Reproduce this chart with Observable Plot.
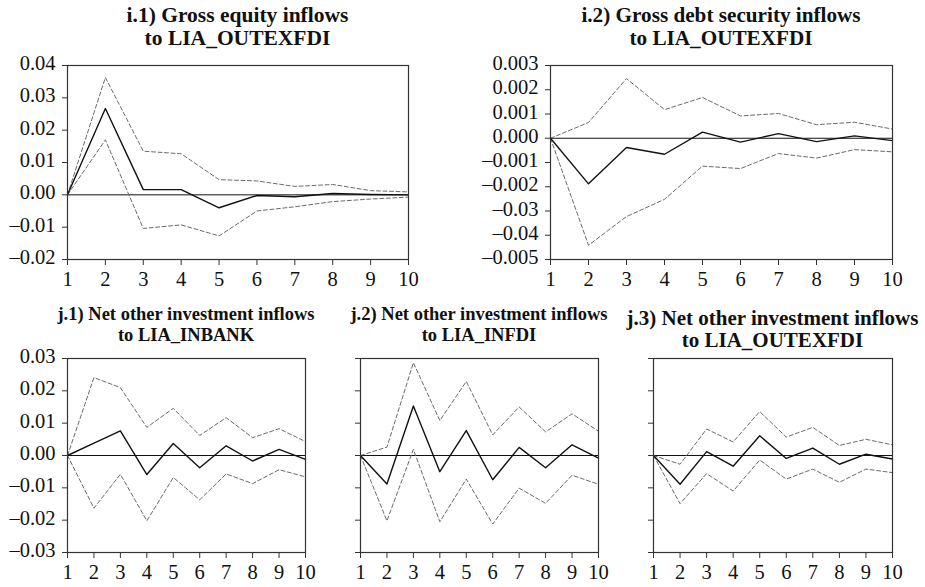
<!DOCTYPE html>
<html>
<head>
<meta charset="utf-8">
<script src="https://cdn.jsdelivr.net/npm/d3@7"></script>
<script src="https://cdn.jsdelivr.net/npm/@observablehq/plot@0.6"></script>
<style>
  html, body { margin: 0; padding: 0; background: #fff; }
  #root { position: relative; width: 925px; height: 587px; overflow: hidden; font-family: "Times New Roman", "Liberation Serif", Times, "DejaVu Serif", serif; }
  .title { position: absolute; font-weight: bold; text-align: center; white-space: nowrap; color: #111; transform: translateX(-50%); }
  .panel { position: absolute; overflow: visible !important; }
</style>
</head>
<body>
<div id="root"></div>
<script>
// Horizons (x axis)
const horizons = [1, 2, 3, 4, 5, 6, 7, 8, 9, 10];

// i.1) Gross equity inflows to LIA_OUTEXFDI
const i1Response = [0, 0.0267, 0.0016, 0.0016, -0.0040, -0.0002, -0.0006, 0.0004, 0.0001, 0.0000];
const i1Upper    = [0, 0.0363, 0.0135, 0.0127, 0.0047, 0.0043, 0.0026, 0.0032, 0.0013, 0.0009];
const i1Lower    = [0, 0.0170, -0.0104, -0.0093, -0.0127, -0.0050, -0.0037, -0.0021, -0.0013, -0.0007];
const i1Ticks    = [0.04, 0.03, 0.02, 0.01, 0, -0.01, -0.02];
const i1Labels   = ["0.04", "0.03", "0.02", "0.01", "0.00", "\u20130.01", "\u20130.02"];

// i.2) Gross debt security inflows to LIA_OUTEXFDI
const i2Response = [0, -0.00188, -0.00038, -0.00066, 0.00025, -0.00016, 0.00019, -0.00014, 0.00010, -0.00010];
const i2Upper    = [0, 0.00065, 0.00246, 0.00118, 0.00168, 0.00092, 0.00102, 0.00056, 0.00066, 0.00038];
const i2Lower    = [0, -0.00441, -0.00323, -0.00252, -0.00115, -0.00125, -0.00063, -0.00082, -0.00047, -0.00056];
const i2Ticks    = [0.003, 0.002, 0.001, 0, -0.001, -0.002, -0.003, -0.004, -0.005];
const i2Labels   = ["0.003", "0.002", "0.001", "0.000", "\u20130.001", "\u20130.002", "\u20130.03", "\u20130.04", "\u20130.005"];

// j.1) Net other investment inflows to LIA_INBANK
const j1Response = [0, 0.0038, 0.0076, -0.0059, 0.0037, -0.0038, 0.0030, -0.0017, 0.0019, -0.0012];
const j1Upper    = [0, 0.0241, 0.0210, 0.0087, 0.0146, 0.0062, 0.0117, 0.0055, 0.0083, 0.0043];
const j1Lower    = [0, -0.0163, -0.0058, -0.0202, -0.0068, -0.0137, -0.0057, -0.0087, -0.0044, -0.0066];

// j.2) Net other investment inflows to LIA_INFDI
const j2Response = [0, -0.0088, 0.0153, -0.0050, 0.0077, -0.0075, 0.0025, -0.0038, 0.0033, -0.0008];
const j2Upper    = [0, 0.0026, 0.0287, 0.0108, 0.0229, 0.0064, 0.0150, 0.0073, 0.0129, 0.0075];
const j2Lower    = [0, -0.0202, 0.0019, -0.0205, -0.0073, -0.0212, -0.0101, -0.0148, -0.0061, -0.0089];

// j.3) Net other investment inflows to LIA_OUTEXFDI
const j3Response = [0, -0.0089, 0.0012, -0.0033, 0.0061, -0.0009, 0.0023, -0.0027, 0.0004, -0.0011];
const j3Upper    = [0, -0.0027, 0.0082, 0.0042, 0.0136, 0.0057, 0.0087, 0.0031, 0.0050, 0.0033];
const j3Lower    = [0, -0.0149, -0.0056, -0.0110, -0.0014, -0.0073, -0.0042, -0.0083, -0.0042, -0.0053];

const jTicks  = [0.03, 0.02, 0.01, 0, -0.01, -0.02, -0.03];
const jLabels = ["0.03", "0.02", "0.01", "0.00", "\u20130.01", "\u20130.02", "\u20130.03"];

const titles = [
  ["i.1) Gross equity inflows", "to LIA_OUTEXFDI"],
  ["i.2) Gross debt security inflows", "to LIA_OUTEXFDI"],
  ["j.1) Net other investment inflows", "to LIA_INBANK"],
  ["j.2) Net other investment inflows", "to LIA_INFDI"],
  ["j.3) Net other investment inflows", "to LIA_OUTEXFDI"]
];

const toRows = arr => horizons.map((h, i) => ({h, v: arr[i]}));

const panels = [
  {resp: i1Response, up: i1Upper, lo: i1Lower, ticks: i1Ticks, labels: i1Labels, domain: [-0.02, 0.04],
   left: 0, top: 55, width: 460, height: 240, mL: 67, mR: 52, mT: 10, mB: 36,
   title: titles[0], titleTop: 4, titleSize: 21.5, titleLH: 23},
  {resp: i2Response, up: i2Upper, lo: i2Lower, ticks: i2Ticks, labels: i2Labels, domain: [-0.005, 0.003],
   left: 460, top: 55, width: 465, height: 240, mL: 90, mR: 33, mT: 10, mB: 36,
   title: titles[1], titleTop: 4, titleSize: 21.2, titleLH: 23},
  {resp: j1Response, up: j1Upper, lo: j1Lower, ticks: jTicks, labels: jLabels, domain: [-0.03, 0.03],
   left: 0, top: 348, width: 310, height: 239, mL: 67, mR: 5, mT: 10, mB: 35,
   title: titles[2], titleTop: 304, titleSize: 18.5, titleLH: 21},
  {resp: j2Response, up: j2Upper, lo: j2Lower, ticks: jTicks, labels: null, domain: [-0.03, 0.03],
   left: 310, top: 348, width: 300, height: 239, mL: 50, mR: 12, mT: 10, mB: 35,
   title: titles[3], titleTop: 304, titleSize: 18.5, titleLH: 21},
  {resp: j3Response, up: j3Upper, lo: j3Lower, ticks: jTicks, labels: null, domain: [-0.03, 0.03],
   left: 610, top: 348, width: 300, height: 239, mL: 43, mR: 18, mT: 10, mB: 35,
   title: titles[4], titleTop: 307, titleSize: 21, titleLH: 22}
];

const root = document.getElementById("root");

for (const p of panels) {
  const fmt = p.labels ? (d => p.labels[p.ticks.indexOf(d)] ?? "") : (() => "");
  const chart = Plot.plot({
    width: p.width,
    height: p.height,
    marginLeft: p.mL,
    marginRight: p.mR,
    marginTop: p.mT,
    marginBottom: p.mB,
    style: {fontFamily: "'Times New Roman', 'Liberation Serif', Times, 'DejaVu Serif', serif", fontSize: "20.5px", color: "#111", background: "transparent", overflow: "visible"},
    x: {domain: [1, 10]},
    y: {domain: p.domain},
    marks: [
      Plot.axisX({ticks: horizons, tickFormat: d => String(d), tickSize: 6, tickPadding: 6, label: null, stroke: "#333"}),
      // tick marks only
      Plot.axisY({ticks: p.ticks, tickFormat: () => "", tickSize: 5, label: null, stroke: "#333"}),
      // tick labels only, nudged slightly upward as in the reference
      Plot.axisY({ticks: p.ticks, tickFormat: fmt, tickSize: 0, tickPadding: 12, dy: -2, label: null}),
      Plot.ruleY([0], {stroke: "#111", strokeWidth: 1}),
      Plot.line(toRows(p.up), {x: "h", y: "v", stroke: "#6b6b6b", strokeWidth: 1, strokeDasharray: "4,2.5"}),
      Plot.line(toRows(p.lo), {x: "h", y: "v", stroke: "#6b6b6b", strokeWidth: 1, strokeDasharray: "4,2.5"}),
      Plot.line(toRows(p.resp), {x: "h", y: "v", stroke: "#111", strokeWidth: 1.4}),
      Plot.frame({stroke: "#333", strokeWidth: 1.2})
    ]
  });
  chart.classList.add("panel");
  chart.style.left = p.left + "px";
  chart.style.top = p.top + "px";
  root.appendChild(chart);

  const t = document.createElement("div");
  t.className = "title";
  const frameCenter = p.left + p.mL + (p.width - p.mL - p.mR) / 2;
  t.style.left = frameCenter + "px";
  t.style.top = p.titleTop + "px";
  t.style.fontSize = p.titleSize + "px";
  t.style.lineHeight = p.titleLH + "px";
  t.innerHTML = p.title[0] + "<br>" + p.title[1];
  root.appendChild(t);
}
</script>
</body>
</html>
